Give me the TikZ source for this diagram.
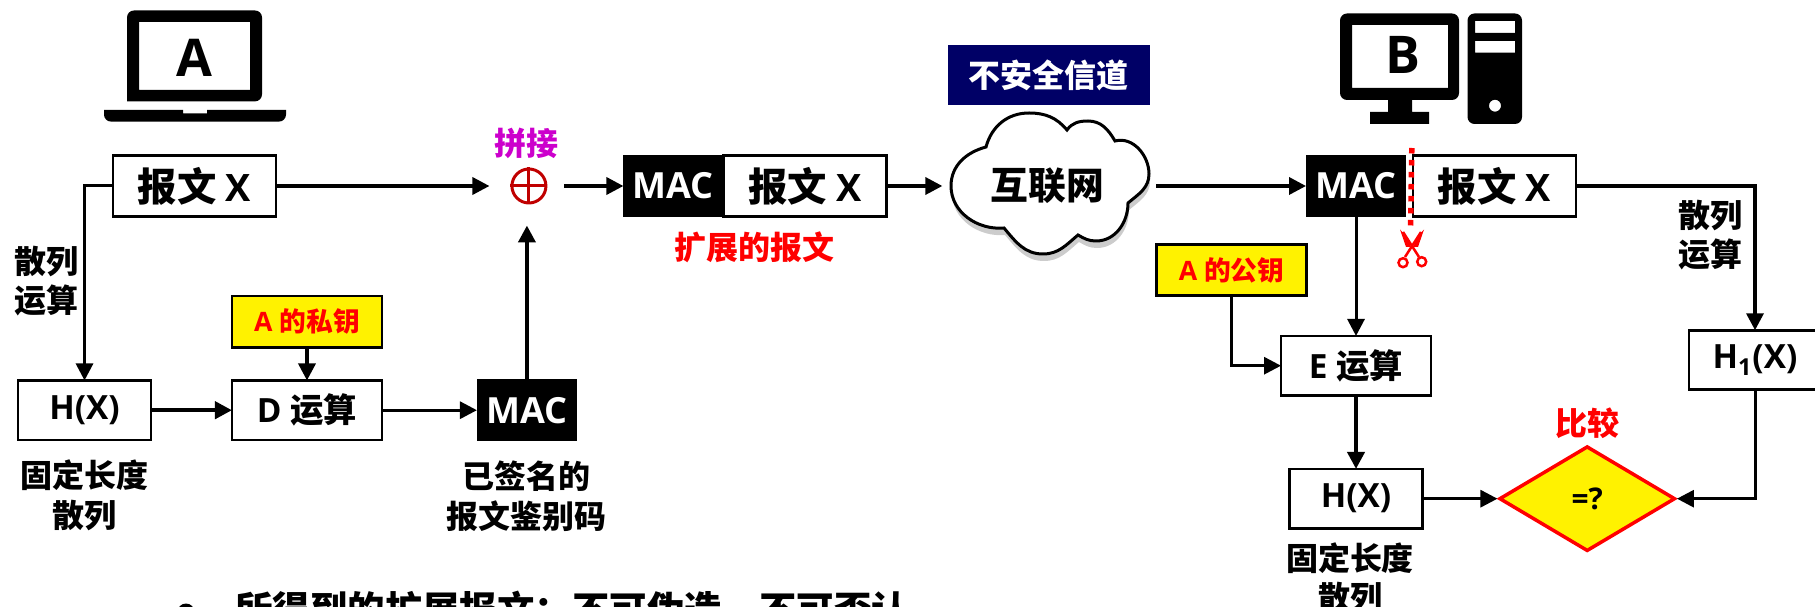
\documentclass[tikz,border=0pt]{standalone}
\usepackage{fontspec}
\setmainfont{Open Sans}
\newfontfamily\cjk{Noto Sans CJK SC}
\usetikzlibrary{shapes.geometric, positioning, arrows.meta}
\newcommand{\zh}[1]{{\cjk #1}}
\newcommand{\iconfnt}{\fontsize{29.6}{32}\selectfont\bfseries}
\newcommand{\bigfnt}{\fontsize{20.5}{24}\selectfont\bfseries}
\newcommand{\midfnt}{\fontsize{18.2}{22.6}\selectfont\bfseries}
\newcommand{\opfnt}{\fontsize{19}{22.6}\selectfont\bfseries}
\newcommand{\smallfnt}{\fontsize{15.2}{18}\selectfont\bfseries}
\newcommand{\msgtext}{{\fontsize{22.4}{24}\selectfont\cjk 报文} {\fontsize{21.5}{24}\selectfont X}}
\definecolor{navyfill}{HTML}{000066}
\definecolor{sumred}{HTML}{C00000}
\definecolor{sumpurple}{HTML}{CC00CC}
\tikzset{
  msgbox/.style={draw, line width=.055cm, fill=white, outer sep=0pt, font=\bigfnt,
    minimum width=3.26cm, minimum height=1.22cm},
  opbox/.style={draw, line width=.055cm, fill=white, outer sep=0pt, font=\opfnt,
    minimum width=3cm, minimum height=1.19cm},
  hashbox/.style={opbox, minimum width=2.66cm},
  macbox/.style={fill=black, text=white, outer sep=0pt, font=\bigfnt,
    minimum width=2cm, minimum height=1.24cm},
  keybox/.style={draw, line width=.055cm, fill=yellow, text=red, outer sep=0pt, font=\smallfnt,
    minimum width=3cm, minimum height=1.03cm},
  note/.style={align=center, inner sep=0pt, font=\midfnt\cjk},
  icon/.style={fill=black, even odd rule},
  thin link/.style={line width=.06cm, -{Triangle[width=.34cm,length=.34cm]}},
  mid link/.style={line width=.07cm, -{Triangle[width=.34cm,length=.34cm]}},
  thick link/.style={line width=.08cm, -{Triangle[width=.34cm,length=.34cm]}}
}
\begin{document}
\begin{tikzpicture}[x=.02cm, y=-.02cm]
      \clip (0,0) rectangle (1815,607);
      % computer A
      \fill[icon] (127,101.4) [rounded corners=.14cm] -- (127,10.5) -- (262,10.5)
        -- (262,101.4) [sharp corners] -- cycle (139,22) rectangle (250,90);
      \fill (104,110) -- (183,110) -- (183,113.4) -- (207,113.4) -- (207,110) -- (286,110)
        [rounded corners=.14cm] -- (286,121.6) -- (104,121.6) [sharp corners] -- cycle;
      \node[font=\iconfnt] (usera) at (194.5,58) {A};
      % sender
      \node[msgbox] (msga) at (194.5,186) {\msgtext};
      \node[hashbox, below=3.28cm of msga, xshift=-2.2cm] (hxa) {H(X)};
      \node[opbox, right=1.62cm of hxa] (da) {D \zh{运算}};
      \node[keybox, above=.66cm of da] (keya) {A \zh{的私钥}};
      \node[macbox, right=1.9cm of da] (maca) {MAC};
      \node[
      circle,
      draw=sumred,
      line width=.06cm,
      minimum size=.68cm,
      inner sep=0pt,
      xshift=.04cm
      ] (plus) at (maca |- msga) {};
      \draw[sumred, line width=.06cm] (plus.west) -- (plus.east) (plus.north) -- (plus.south);
      \node[note, text=sumpurple, above=.16cm of plus, xshift=-.04cm] (sumlabel) {拼接};
      \node[note] (hashlabela) at (46,281) {散列\\运算};
      \node[note, below=.39cm of hxa] (fixlabela) {固定长度\\散列};
      \node[note, below=.39cm of maca] (maclabel) {已签名的\\报文鉴别码};
      % extended message
      \node[macbox, right=1.52cm of plus] (extmac) {MAC};
      \node[msgbox, right=0pt of extmac] (extmsg) {\msgtext};
      \node[note, text=red, below=.28cm of extmac.south east, xshift=.62cm] (extlabel) {扩展的报文};
      % channel
      \fill[black!20, xshift=.02cm, yshift=-.14cm] (986,147) to[out=75,in=180] (1029,113)
        to[out=0,in=130] (1067,130) to[out=55,in=180] (1088,121) to[out=0,in=120] (1115,141)
        to[out=15,in=90] (1149,174) to[out=-90,in=40] (1128,203) to[out=-90,in=0] (1096,241)
        to[out=180,in=-30] (1078,235) to[out=-140,in=0] (1043,254) to[out=180,in=-50] (1004,228)
        to[out=185,in=-90] (951,186) to[out=90,in=195] cycle;
      \draw[line width=.06cm, fill=white] (986,147) to[out=75,in=180] (1029,113)
        to[out=0,in=130] (1067,130) to[out=55,in=180] (1088,121) to[out=0,in=120] (1115,141)
        to[out=15,in=90] (1149,174) to[out=-90,in=40] (1128,203) to[out=-90,in=0] (1096,241)
        to[out=180,in=-30] (1078,235) to[out=-140,in=0] (1043,254) to[out=180,in=-50] (1004,228)
        to[out=185,in=-90] (951,186) to[out=90,in=195] cycle;
      \node[
      right=1.22cm of extmsg,
      minimum width=3.98cm,
      minimum height=2.8cm,
      font=\fontsize{21.5}{24}\selectfont\bfseries\cjk
      ] (inet) {互联网};
      \node[
      fill=navyfill,
      text=white,
      font=\midfnt\cjk,
      minimum width=4.04cm,
      minimum height=1.19cm
      ] (channel) at (1048.7,75) {不安全信道};
      % computer B
      \fill[icon, rounded corners=.14cm] (1340,13.5) rectangle (1459,100)
        (1352,25) [sharp corners] rectangle (1448,88);
      \fill (1388,100) rectangle (1412,112) (1370,112) rectangle (1429,124);
      \fill[icon] [rounded corners=.14cm] (1467.5,13.5) rectangle (1522,124)
        [sharp corners] (1475,21) rectangle (1515,33) (1475,41) rectangle (1515,52.6)
        (1495,105.7) circle (6);
      \node[font=\iconfnt] (userb) at (1403,55) {B};
      % receiver
      \node[macbox] (macb) at (1356,186) {MAC};
      \node[msgbox, right=.14cm of macb] (msgb) {\msgtext};
      \node[keybox] (keyb) at (1231.5,270) {A \zh{的公钥}};
      \node[opbox, below=2.38cm of macb] (eb) {E \zh{运算}};
      \node[hashbox, below=1.47cm of eb] (hxb) {H(X)};
      \node[
      diamond,
      draw=red,
      fill=yellow,
      line width=.07cm,
      inner sep=0pt,
      aspect=1.68,
      minimum width=3.52cm,
      minimum height=2.1cm,
      font=\fontsize{17}{20}\selectfont\bfseries,
      right=1.5cm of hxb
      ] (cmp) {=?\hspace{.25cm}};
      \node[hashbox, minimum width=2.64cm] (hone) at (1755,360) {H\textsubscript{1}(X)};
      \node[note] (hashlabelb) at (1710,235) {散列\\运算};
      \node[note, text=red, above=.1cm of cmp] (cmplabel) {比较};
      \node[note, below=.27cm of hxb, xshift=-.12cm] (fixlabelb) {固定长度\\散列};
      % cut mark
      \draw[red, line width=.11cm, dash pattern=on .11cm off .13cm] (1411.8,148) -- (1410.6,226);
      \draw[red, line width=.05cm] (1403,232) -- (1419,257) (1421,232) -- (1405,257);
      \fill[red] (1400,229.5) -- (1406,236) -- (1411,247) -- (1406,247) -- cycle
        (1424,229.5) -- (1418,236) -- (1413,247) -- (1418,247) -- cycle;
      \draw[red, line width=.05cm] (1421.7,261.7) circle (4.5) (1403,262.7) circle (4.5);
      % text below
      \node[circle, fill=black, minimum size=.34cm, inner sep=0pt] (dot) at (186,612) {};
      \node[
      anchor=west,
      inner sep=0pt,
      font=\fontsize{21.3}{24}\selectfont\bfseries\cjk
      ] (summary) at (235,610) {所得到的扩展报文：不可伪造，不可否认};
      % connectors
      \draw[mid link, shorten >=.42cm] (msga) -- (plus);
      \draw[thin link] (msga) -| (hxa);
      \draw[thick link] (hxa) -- (da);
      \draw[mid link] (keya) -- (da);
      \draw[thin link] (da) -- (maca);
      \draw[thick link, shorten >=.42cm] (maca.north) -- (maca.north |- plus.south);
      \draw[mid link, shorten <=.34cm] (plus) -- (extmac);
      \draw[mid link, shorten >=.1cm] (extmsg) -- (inet);
      \draw[mid link, shorten <=.18cm] (inet) -- (macb);
      \draw[thin link] (macb) -- (eb);
      \draw[thin link] (keyb) |- (eb);
      \draw[thick link] (eb) -- (hxb);
      \draw[thin link] (hxb) -- (cmp);
      \draw[mid link] (msgb) -| (hone);
      \draw[thin link] (hone) |- (cmp);
    \end{tikzpicture}
\end{document}
